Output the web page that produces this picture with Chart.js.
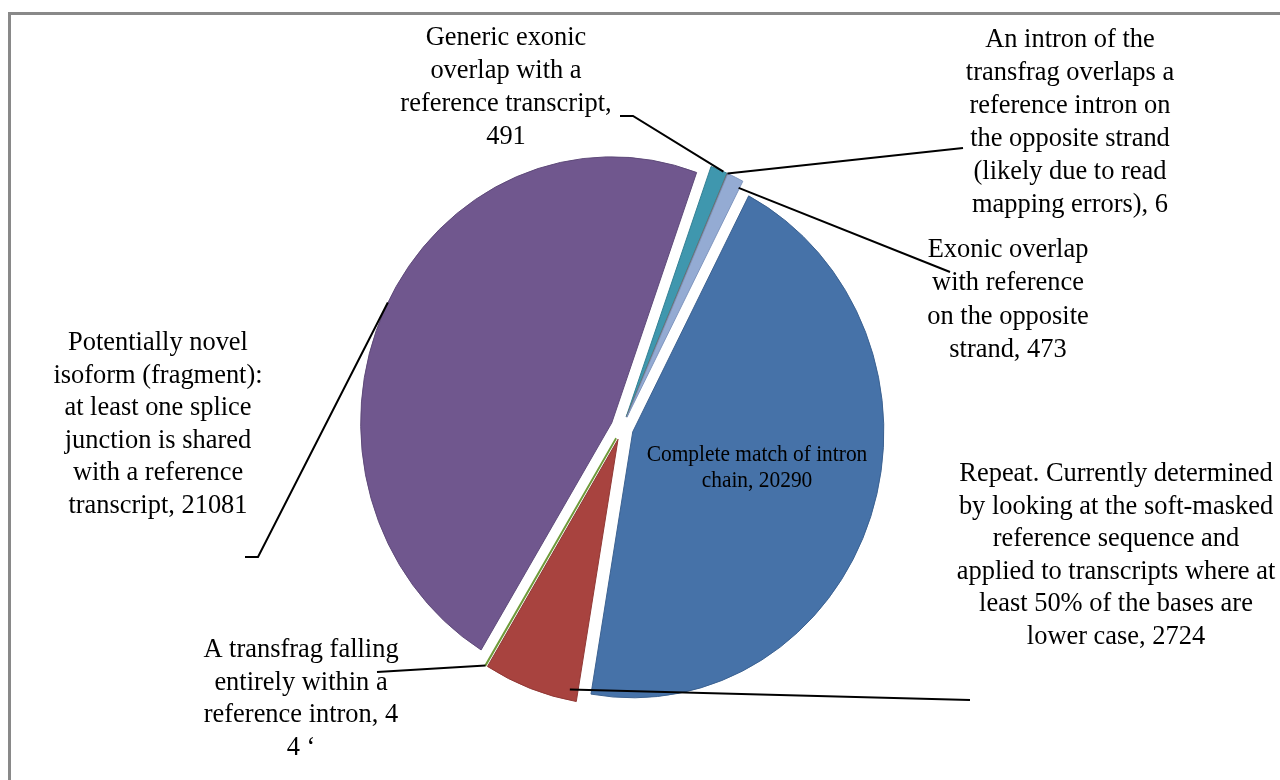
<!DOCTYPE html>
<html><head><meta charset="utf-8">
<script src="https://cdn.jsdelivr.net/npm/chart.js@4.4.0/dist/chart.umd.min.js"></script>
<style>
html,body{margin:0;padding:0;background:#fff;overflow:hidden;width:1280px;height:780px}
#frame{position:absolute;left:8px;top:12px;width:1400px;height:900px;border:3px solid #898989;box-sizing:border-box}
#c{position:absolute;left:0;top:0}
</style></head><body>
<div id="frame"></div>
<canvas id="c" width="1280" height="780"></canvas>
<script>
// ---- data ----
const categories = [
  "Complete match of intron chain",
  "Repeat. Currently determined by looking at the soft-masked reference sequence and applied to transcripts where at least 50% of the bases are lower case",
  "A transfrag falling entirely within a reference intron",
  "Potentially novel isoform (fragment): at least one splice junction is shared with a reference transcript",
  "Generic exonic overlap with a reference transcript",
  "An intron of the transfrag overlaps a reference intron on the opposite strand (likely due to read mapping errors)",
  "Exonic overlap with reference on the opposite strand"
];
const values = [20290, 2724, 4, 21081, 491, 6, 473];
// label text broken into lines as in the picture ({v} = value)
const labelLines = [
  ["Complete match of intron", "chain, {v}"],
  ["Repeat. Currently determined", "by looking at the soft-masked", "reference sequence and", "applied to transcripts where at", "least 50% of the bases are", "lower case, {v}"],
  ["A transfrag falling", "entirely within a", "reference intron, {v}", "4 \u2018"],
  ["Potentially novel", "isoform (fragment):", "at least one splice", "junction is shared", "with a reference", "transcript, {v}"],
  ["Generic exonic", "overlap with a", "reference transcript,", "{v}"],
  ["An intron of the", "transfrag overlaps a", "reference intron on", "the opposite strand", "(likely due to read", "mapping errors), {v}"],
  ["Exonic overlap", "with reference", "on the opposite", "strand, {v}"]
];
const sliceColors  = ["#4672A8", "#A8433F", "#86A84E", "#70578E", "#3F97AE", "#7F7F7F", "#94ABD3"];
const sliceBorders = ["#3A6090", "#8E3633", "#6F9A3A", "#5D4878", "#337F93", "#6F6F6F", "#7E95BE"];
const sliceBorderW = [1, 1, 2, 1, 1, 1.5, 1];

// ---- layout (positions / styles) ----
const SX = 0.944;      // horizontal squash of the original picture
const EXPLODE = 12;    // exploded-slice distance
const labelLayout = [
  {cx: 757,  base: 461, step: 26,   size: 22.7, path: null},
  {cx: 1116, base: 481, step: 32.6, size: 28, path: [[970,700]], frac: 0.09, rf: 0.96},
  {cx: 301,  base: 657, step: 32.7, size: 28, path: [[377,672]], frac: 0.5, rf: 1.0},
  {cx: 158,  base: 350, step: 32.6, size: 28, path: [[245,557],[258,557]], frac: 0.508, rf: 1.0},
  {cx: 506,  base: 45,  step: 33,   size: 28, path: [[620,116],[633,116]], frac: 0.77, rf: 1.0},
  {cx: 1070, base: 47,  step: 33,   size: 28, path: [[963,148]], frac: 0.5, rf: 1.0},
  {cx: 1008, base: 257, step: 33.3, size: 28, path: [[950,272]], frac: 0.95, rf: 0.97}
];

function anchor(chart, i, frac, rf) {
  const arc = chart.getDatasetMeta(0).data[i];
  const p = arc.getProps(['x','y','startAngle','endAngle','outerRadius'], true);
  const mid = (p.startAngle + p.endAngle) / 2;
  const th = p.startAngle + frac * (p.endAngle - p.startAngle);
  const x = p.x + EXPLODE * Math.cos(mid) + rf * p.outerRadius * Math.cos(th);
  const y = p.y + EXPLODE * Math.sin(mid) + rf * p.outerRadius * Math.sin(th);
  return [p.x + SX * (x - p.x), y];
}

const explodePlugin = {
  id: 'explodePie',
  beforeDatasetDraw(chart, args) {
    const ctx = chart.ctx;
    args.meta.data.forEach(arc => {
      const p = arc.getProps(['x','y','startAngle','endAngle'], true);
      const mid = (p.startAngle + p.endAngle) / 2;
      ctx.save();
      ctx.translate(p.x, p.y); ctx.scale(SX, 1); ctx.translate(-p.x, -p.y);
      ctx.translate(Math.cos(mid) * EXPLODE, Math.sin(mid) * EXPLODE);
      arc.draw(ctx, chart.chartArea);
      ctx.restore();
    });
    return false;
  },
  afterDraw(chart) {
    const ctx = chart.ctx;
    // leader lines
    ctx.save();
    ctx.strokeStyle = '#000'; ctx.lineWidth = 2; ctx.lineJoin = 'miter';
    labelLayout.forEach((L, i) => {
      if (!L.path) return;
      const a = anchor(chart, i, L.frac, L.rf);
      ctx.beginPath();
      ctx.moveTo(L.path[0][0], L.path[0][1]);
      for (let k = 1; k < L.path.length; k++) ctx.lineTo(L.path[k][0], L.path[k][1]);
      ctx.lineTo(a[0], a[1]);
      ctx.stroke();
    });
    ctx.restore();
    // labels
    labelLayout.forEach((L, i) => {
      const lines = labelLines[i].map(s => s.replace('{v}', String(values[i])));
      ctx.save();
      ctx.fillStyle = '#000';
      ctx.textAlign = 'center';
      ctx.textBaseline = 'alphabetic';
      ctx.font = L.size + 'px "Liberation Serif", "Times New Roman", serif';
      lines.forEach((s, k) => {
        ctx.save();
        ctx.translate(L.cx, L.base + k * L.step);
        ctx.scale(SX, 1);
        ctx.fillText(s, 0, 0);
        ctx.restore();
      });
      ctx.restore();
    });
  }
};

new Chart(document.getElementById('c'), {
  type: 'pie',
  data: {
    labels: categories,
    datasets: [{
      data: values,
      backgroundColor: sliceColors,
      borderColor: sliceBorders,
      borderWidth: sliceBorderW
    }]
  },
  options: {
    responsive: false,
    animation: false,
    events: [],
    rotation: 27.5,
    radius: 266,
    layout: {padding: {left: 0, right: 36, top: 76, bottom: 0}},
    plugins: {legend: {display: false}, tooltip: {enabled: false}, title: {display: false}}
  },
  plugins: [explodePlugin]
});
</script>
</body></html>
